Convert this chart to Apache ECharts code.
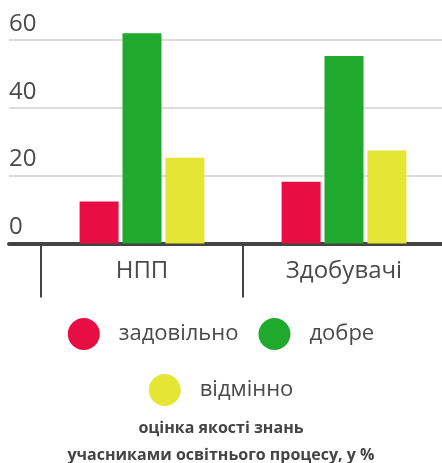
<!DOCTYPE html>
<html>
<head>
<meta charset="utf-8">
<script src="https://cdn.jsdelivr.net/npm/echarts@6/dist/echarts.min.js"></script>
<style>
  html, body { margin: 0; padding: 0; background: #fff; }
  #main { width: 442px; height: 463px; }
</style>
</head>
<body>
<div id="main"></div>
<script>
const categories = ['НПП', 'Здобувачі'];
const satisfactory = [12.4, 18.2];
const good = [62, 55.3];
const excellent = [25.3, 27.4];
const seriesNames = ['задовільно', 'добре', 'відмінно'];
const colors = ['#e80e44', '#1faa2e', '#e5e534'];

const font = '"Open Sans", "Noto Sans", sans-serif';
const textColor = '#4a4a4a';

const chart = echarts.init(document.getElementById('main'));

const valueAxis = {
  type: 'value',
  min: 0,
  max: 65,
  interval: 20
};

const legendText = { fontFamily: font, fontSize: 22, color: textColor, padding: [0, 0, 0, 14] };

chart.setOption({
  animation: false,
  title: {
    text: 'оцінка якості знань\nучасниками освітнього процесу, у %',
    left: 'center',
    top: 410,
    textStyle: {
      fontFamily: font,
      fontSize: 16,
      fontWeight: 'bold',
      color: '#444',
      lineHeight: 27,
      align: 'center'
    }
  },
  legend: [
    {
      data: seriesNames.slice(0, 2),
      top: 313,
      left: 'center',
      icon: 'circle',
      itemWidth: 32,
      itemHeight: 32,
      itemGap: 20,
      textStyle: legendText
    },
    {
      data: seriesNames.slice(2),
      top: 369,
      left: 'center',
      icon: 'circle',
      itemWidth: 32,
      itemHeight: 32,
      textStyle: legendText
    }
  ],
  grid: [
    { left: 9, right: 0, top: 23, bottom: 219.5, outerBoundsMode: 'none' },
    { left: 41, width: 404, top: 23, bottom: 219.5, outerBoundsMode: 'none' }
  ],
  xAxis: [
    {
      gridIndex: 0,
      type: 'value',
      axisLine: { show: true, onZero: true, lineStyle: { color: '#444', width: 4 } },
      axisTick: { show: false },
      axisLabel: { show: false },
      splitLine: { show: false }
    },
    {
      gridIndex: 1,
      type: 'category',
      data: categories,
      axisLine: { show: false },
      axisTick: { show: true, length: 54, lineStyle: { color: '#444', width: 2 } },
      axisLabel: { fontFamily: font, fontSize: 24, color: textColor, margin: 16 }
    }
  ],
  yAxis: [
    Object.assign({}, valueAxis, {
      gridIndex: 0,
      axisLine: { show: false },
      axisTick: { show: false },
      axisLabel: {
        inside: true,
        showMaxLabel: false,
        verticalAlign: 'bottom',
        margin: 0,
        padding: [0, 0, 4, 0],
        fontFamily: font,
        fontSize: 24,
        color: textColor
      },
      splitLine: { show: true, showMaxLine: false, showMinLine: false, lineStyle: { color: '#dcdcdc', width: 2 } }
    }),
    Object.assign({}, valueAxis, {
      gridIndex: 1,
      show: false,
      splitLine: { show: false }
    })
  ],
  series: [
    { name: seriesNames[0], data: satisfactory },
    { name: seriesNames[1], data: good },
    { name: seriesNames[2], data: excellent }
  ].map((s, i) => ({
    name: s.name,
    type: 'bar',
    xAxisIndex: 1,
    yAxisIndex: 1,
    data: s.data,
    barWidth: 39,
    barGap: '10%',
    itemStyle: { color: colors[i] }
  }))
});
</script>
</body>
</html>
